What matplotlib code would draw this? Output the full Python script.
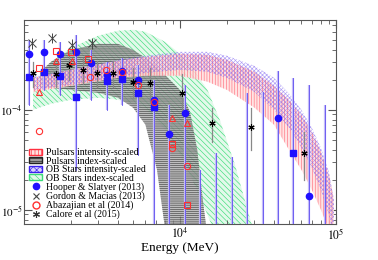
import numpy as np
import matplotlib
matplotlib.use("Agg")
import matplotlib.pyplot as plt
from matplotlib.patches import Patch
from matplotlib.lines import Line2D
from matplotlib.ticker import LogLocator, NullFormatter, FixedLocator, FixedFormatter

plt.rcParams['font.family'] = ['Liberation Serif', 'DejaVu Serif']
plt.rcParams['mathtext.fontset'] = 'stix'
plt.rcParams['hatch.linewidth'] = 0.45

# --- bands (energy in MeV, E^2 dN/dE) ---
ob_int_E = [1142, 2000, 4000, 6000, 1e4, 1.5e4, 2e4, 3e4, 4e4, 5e4, 6e4, 7e4, 8e4, 9e4, 9.7e4]
ob_int_hi = [2.14e-4, 2.51e-4, 3.16e-4, 3.47e-4, 3.80e-4, 3.80e-4, 3.47e-4, 2.75e-4, 2.09e-4,
             1.45e-4, 1.0e-4, 6.6e-5, 4.17e-5, 2.4e-5, 1.26e-5]
ob_int_lo = [1.58e-4, 1.78e-4, 2.14e-4, 2.34e-4, 2.51e-4, 2.40e-4, 2.09e-4, 1.51e-4, 1.0e-4,
             6.6e-5, 4.17e-5, 2.63e-5, 1.58e-5, 8.9e-6, 5.0e-6]

psr_int_E = ob_int_E
psr_int_hi = [2.09e-4, 2.51e-4, 3.09e-4, 3.39e-4, 3.63e-4, 3.55e-4, 3.16e-4, 2.40e-4, 1.74e-4,
              1.26e-4, 8.9e-5, 6.0e-5, 3.8e-5, 2.24e-5, 1.26e-5]
psr_int_lo = [1.51e-4, 1.74e-4, 2.09e-4, 2.19e-4, 2.19e-4, 1.91e-4, 1.58e-4, 1.05e-4, 7.1e-5,
              3.98e-5, 2.51e-5, 1.58e-5, 1.0e-5, 6.3e-6, 4.5e-6]

ob_idx_E = [1142, 1490, 2000, 2985, 4000, 5000, 6000, 8000, 1e4, 1.2e4, 1.5e4, 1.8e4, 2.25e4, 2.8e4, 3.16e4]
ob_idx_hi = [1.78e-4, 3.02e-4, 4.17e-4, 5.5e-4, 6.17e-4, 6.31e-4, 6.03e-4, 4.79e-4, 3.63e-4,
             2.63e-4, 1.58e-4, 7.9e-5, 2.82e-5, 8.3e-6, 4.5e-6]
ob_idx_lo = [1.0e-4, 1.15e-4, 1.26e-4, 1.32e-4, 1.26e-4, 1.15e-4, 1.0e-4, 6.3e-5, 3.55e-5,
             2.0e-5, 8.9e-6, 4.5e-6, 3.2e-6, 3.2e-6, 3.2e-6]

psr_idx_E = [1266, 1490, 2000, 2985, 4000, 5000, 6000, 7120, 8000, 1e4, 1.16e4, 1.29e4, 1.40e4, 1.51e4]
psr_idx_hi = [2.40e-4, 3.02e-4, 3.98e-4, 4.57e-4, 4.57e-4, 3.98e-4, 3.31e-4, 2.69e-4, 2.24e-4,
              1.58e-4, 9.5e-5, 3.98e-5, 1.26e-5, 5.0e-6]
psr_idx_lo = [1.66e-4, 1.66e-4, 1.58e-4, 1.48e-4, 1.32e-4, 1.05e-4, 7.1e-5, 2.51e-5, 6.6e-6,
              3.2e-6, 3.2e-6, 3.2e-6, 3.2e-6, 3.2e-6]

# --- Hooper & Slatyer (2013) ---
hs_E = [1077, 1343, 1701, 2155, 2689, 3404, 4250, 5382, 6813, 8500, 10770, 13430, 17010,
        21540, 26870, 34040, 42490, 52990, 67150, 84960]
hs_F = [3.63e-4, 3.80e-4, 3.63e-4, 3.80e-4, 2.95e-4, 2.24e-4, 2.45e-4, 2.0e-4, 1.26e-4, 5.75e-5,
        9.3e-5, np.nan, np.nan, np.nan, np.nan, np.nan, 8.3e-5, np.nan, 1.38e-5, np.nan]
hs_lo = [1.12e-4, 1.58e-4, 1.41e-4, 2.51e-5, 1.26e-4, 1.0e-4, 1.12e-4, 3.55e-5, 1e-6, 1e-6,
         1e-6, 1e-6, 1e-6, 1e-6, 1e-6, 1e-6, 1e-6, 1e-6, 1e-6, 1e-6]
hs_hi = [5.0e-4, 5.0e-4, 4.79e-4, 5.62e-4, 3.98e-4, 3.02e-4, 3.31e-4, 2.82e-4, 2.0e-4, 1.12e-4,
         1.78e-4, 2.51e-5, 3.72e-5, 3.39e-5, 1.48e-4, 1.51e-4, 2.45e-4, 2.09e-4, 1.78e-4, 1.12e-4]

hs2_E = [1077, 1343, 1701, 2155, 3404, 4250, 5382, 6813, 52990]
hs2_F = [2.14e-4, 2.40e-4, 2.19e-4, 1.35e-4, 1.95e-4, 2.04e-4, 1.48e-4, 1.07e-4, 3.72e-5]

# --- Gordon & Macias (2013) ---
gm_E = [1125, 1512, 2031, 2729]
gm_F = [4.68e-4, 5.25e-4, 4.47e-4, 4.68e-4]
gm_err = [0.6e-4, 0.6e-4, 0.6e-4, 0.6e-4]

# --- Abazajian et al (2014) ---
ab_circ_E = [1248, 2649, 3356, 4250, 5382, 6813, 8885, 11090]
ab_circ_F = [6.2e-5, 2.14e-4, 2.51e-4, 2.40e-4, 1.78e-4, 1.20e-4, 4.17e-5, 2.75e-5]
ab_sq_E = [1248, 1604, 2000, 2571, 8885, 11090]
ab_sq_F = [2.63e-4, 3.89e-4, 3.80e-4, 3.24e-4, 4.57e-5, 1.12e-5]
ab_tri_E = [1248, 1604, 2031, 8885, 11090]
ab_tri_F = [1.51e-4, 3.09e-4, 3.09e-4, 8.3e-5, 7.4e-5]

# --- Calore et al (2015) ---
ca_E = [1142, 1604, 1943, 2388, 2938, 3721, 5000, 6423, 10300, 16040, 28530, 62350]
ca_F = [2.34e-4, 2.29e-4, 2.82e-4, 2.51e-4, 2.34e-4, 2.34e-4, 1.91e-4, 1.85e-4, 1.48e-4,
        7.4e-5, 6.8e-5, 3.72e-5]
ca_lo = [1.7e-4, 1.7e-4, 2.0e-4, 1.8e-4, 1.7e-4, 1.7e-4, 1.3e-4, 1.2e-4, 9.0e-5, 4.8e-5, 4.0e-5, 2.0e-5]
ca_hi = [3.0e-4, 2.9e-4, 3.6e-4, 3.3e-4, 3.1e-4, 3.1e-4, 2.6e-4, 2.6e-4, 2.3e-4, 1.05e-4, 1.05e-4, 6.0e-5]

asterisk = (6, 2, 0)

fig = plt.figure(figsize=(3.78, 2.60), dpi=100)
ax = fig.add_axes([0.0635, 0.138, 0.8255, 0.785])
ax.set_xscale('log')
ax.set_yscale('log')

ax.fill_between(ob_idx_E, ob_idx_lo, ob_idx_hi, facecolor='#e2f9ea', edgecolor='#3ddc7a',
                hatch='\\\\\\\\\\\\', linewidth=0, zorder=1)
ax.fill_between(psr_idx_E, psr_idx_lo, psr_idx_hi, facecolor='#a8a8a8', edgecolor='#1a1a1a',
                hatch='--------', linewidth=0, alpha=0.75, zorder=2)
ax.fill_between(psr_int_E, psr_int_lo, psr_int_hi, facecolor='#ffe0e0', edgecolor='#ff5a6a',
                hatch='||||||', linewidth=0, alpha=0.85, zorder=3)
ax.fill_between(ob_int_E, ob_int_lo, ob_int_hi, facecolor='none', edgecolor='#7a5cf0',
                hatch='xxxxxxxx', linewidth=0, alpha=0.6, zorder=4)

# error bars
for e, lo, hi in zip(hs_E, hs_lo, hs_hi):
    ax.plot([e, e], [lo, hi], color='#c4bcf8', lw=1.6, zorder=5, solid_capstyle='butt')
    ax.plot([e, e], [lo, hi], color='#6050f0', lw=0.6, zorder=5)
ax.plot(hs_E, hs_F, 'o', color='#2010ff', ms=4.5, zorder=8)
ax.plot(hs2_E, hs2_F, 's', color='#2010ff', ms=4, zorder=8)

ax.errorbar(gm_E, gm_F, yerr=gm_err, fmt='x', color='#444444', ms=6, mew=0.7, elinewidth=0.7,
            capsize=0, zorder=7)

for e, lo, hi in zip(ca_E, ca_lo, ca_hi):
    ax.plot([e, e], [lo, hi], color='#888888', lw=0.9, zorder=6)
ax.plot(ca_E, ca_F, ls='none', marker=asterisk, color='black', ms=4.5, mew=0.8, zorder=9)

ax.plot(ab_circ_E, ab_circ_F, 'o', mfc='none', mec='#ff3030', ms=4.5, mew=0.8, zorder=9)
ax.plot(ab_sq_E, ab_sq_F, 's', mfc='none', mec='#ff3030', ms=4.5, mew=0.8, zorder=9)
ax.plot(ab_tri_E, ab_tri_F, '^', mfc='none', mec='#ff3030', ms=4.5, mew=0.8, zorder=9)

ax.set_xlim(1000, 1e5)
ax.set_ylim(7.2e-6, 7.9e-4)
ax.xaxis.set_major_locator(FixedLocator([1e4, 1e5]))
ax.xaxis.set_major_formatter(FixedFormatter(['$10^4$', '$10^5$']))
ax.xaxis.set_minor_locator(LogLocator(base=10, subs=np.arange(2, 10)))
ax.xaxis.set_minor_formatter(NullFormatter())
ax.yaxis.set_major_locator(FixedLocator([1e-5, 1e-4]))
ax.yaxis.set_major_formatter(FixedFormatter(['$10^{-5}$', '$10^{-4}$']))
ax.yaxis.set_minor_locator(LogLocator(base=10, subs=np.arange(2, 10)))
ax.yaxis.set_minor_formatter(NullFormatter())
ax.tick_params(which='both', direction='in', top=True, right=True, labelsize=8.5,
               color='#555555', pad=2)
ax.tick_params(axis='y', labelsize=8, pad=1)
ax.tick_params(which='major', length=6)
ax.tick_params(which='minor', length=3)
for s in ax.spines.values():
    s.set_color('#555555')
ax.set_xlabel('Energy (MeV)', fontsize=9.5, labelpad=0)

handles = [
    Patch(facecolor='#ffe0e0', edgecolor='#ff3040', hatch='|||||', label='Pulsars intensity-scaled'),
    Patch(facecolor='#9a9a9a', edgecolor='#222222', hatch='-----', label='Pulsars index-scaled'),
    Patch(facecolor='#d8d0ff', edgecolor='#3a20f0', hatch='xxxxx', label='OB Stars intensity-scaled'),
    Patch(facecolor='#e2f9ea', edgecolor='#3ddc7a', hatch='\\\\\\\\\\', label='OB Stars index-scaled'),
    Line2D([], [], ls='none', marker='o', color='#2010ff', ms=4.5, label='Hooper & Slatyer (2013)'),
    Line2D([], [], ls='none', marker='x', color='#444444', ms=5, mew=0.8, label='Gordon & Macias (2013)'),
    Line2D([], [], ls='none', marker='o', mfc='none', mec='#ff3030', ms=5, label='Abazajian et al (2014)'),
    Line2D([], [], ls='none', marker=asterisk, color='#333333', ms=5, mew=0.8, label='Calore et al (2015)'),
]
ax.legend(handles=handles, loc='lower left', bbox_to_anchor=(0.0, 0.0), frameon=False,
          fontsize=7, handlelength=1.4, handleheight=0.6, handletextpad=0.35,
          labelspacing=-0.05, borderaxespad=0.3, borderpad=0.2)

fig.savefig('out.png', dpi=100)
